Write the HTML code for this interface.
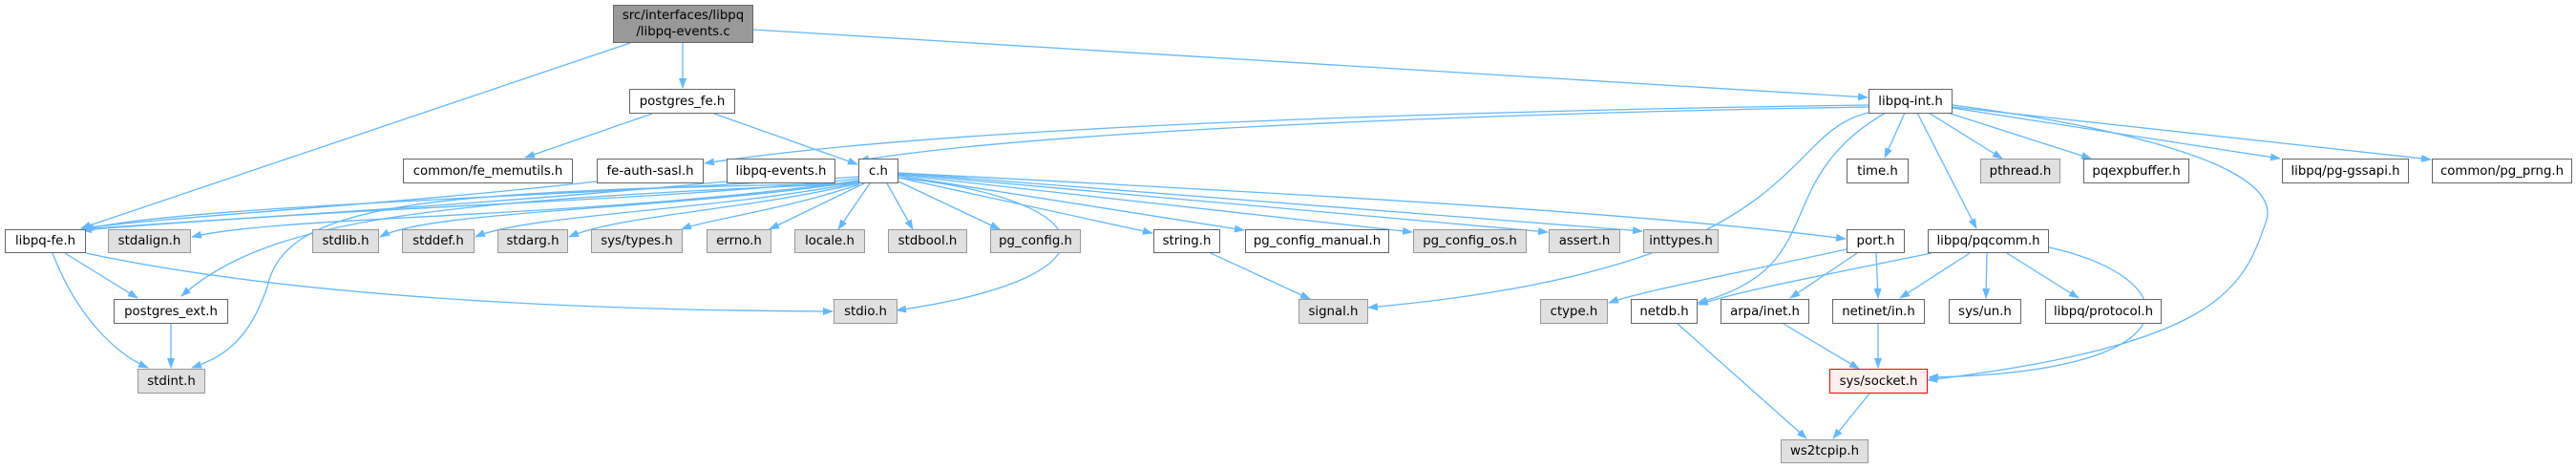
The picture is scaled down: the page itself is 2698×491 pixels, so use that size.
<!DOCTYPE html>
<html><head><meta charset="utf-8"><style>
html,body{margin:0;padding:0;background:#fff;width:2698px;height:491px;overflow:hidden;position:relative}
.n{position:absolute;box-sizing:border-box;border:1px solid #666;background:#fff;font-family:"DejaVu Sans","Liberation Sans",sans-serif;font-size:13.3px;color:#000;display:flex;align-items:center;justify-content:center;white-space:nowrap;line-height:17px;text-align:center}
.g{background:#e0e0e0;border-color:#999}
svg{position:absolute;left:0;top:0}
</style></head><body>
<svg width="2698" height="491" viewBox="0 0 2698 491">
<defs><marker id="a" markerWidth="11" markerHeight="8" refX="10" refY="4" orient="auto" markerUnits="userSpaceOnUse"><path d="M0,0 L11,4 L0,8 z" fill="#63b8ff"/></marker></defs>
<g fill="none" stroke="#63b8ff" stroke-width="1.3" marker-end="url(#a)">
<path d="M715,45 L715,92"/>
<path d="M660,45 L85,239"/>
<path d="M789,31 L1956,102"/>
<path d="M683,119 L550,165"/>
<path d="M748,119 L898,172"/>
<path d="M1957,110 C1600,115 1000,130 738,171"/>
<path d="M1957,112 C1600,118 1100,135 900,168"/>
<path d="M625,190 C400,215 200,225 85,239"/>
<path d="M761,190 C500,215 250,228 86,240"/>
<path d="M899,185 C600,205 200,215 88,240"/>
<path d="M899,187 C700,210 400,215 86,241"/>
<path d="M899,189 C600,230 300,225 201,248"/>
<path d="M899,190 C700,220 450,220 398,248"/>
<path d="M899,191 C750,220 550,225 498,248"/>
<path d="M899,192 C780,220 650,225 596,248"/>
<path d="M900,193 C820,220 740,230 714,240"/>
<path d="M905,192 L806,240"/>
<path d="M911,192 L878,240"/>
<path d="M929,192 L956,240"/>
<path d="M941,190 L1047,240"/>
<path d="M941,186 L1207,244"/>
<path d="M941,184 L1303,241"/>
<path d="M941,183 L1479,243"/>
<path d="M941,182 L1621,243"/>
<path d="M941,181 L1720,242"/>
<path d="M941,181 C1300,200 1700,220 1933,250"/>
<path d="M941,186 C1160,210 1180,290 939,325"/>
<path d="M899,192 C450,210 280,230 190,310"/>
<path d="M899,192 C450,200 300,210 280,300 C260,360 230,375 201,385"/>
<path d="M90,265 C300,310 600,325 872,326"/>
<path d="M68,265 L144,312"/>
<path d="M55,265 C80,330 120,370 155,385"/>
<path d="M179,339 L179,385"/>
<path d="M1268,265 L1372,313"/>
<path d="M1957,118 C1860,140 1900,280 1433,322"/>
<path d="M1975,118 C1850,190 1920,280 1778,317"/>
<path d="M2045,110 C2200,130 2390,170 2374,230 C2350,300 2330,360 2019,398"/>
<path d="M1995,118 L1974,165"/>
<path d="M2020,118 L2097,166"/>
<path d="M2040,118 L2190,166"/>
<path d="M2045,113 L2388,166"/>
<path d="M2045,112 L2546,167"/>
<path d="M2008,118 L2070,239"/>
<path d="M1934,261 C1800,290 1720,305 1685,317"/>
<path d="M1945,265 L1875,312"/>
<path d="M1965,265 L1967,312"/>
<path d="M2023,265 C1900,290 1820,305 1779,319"/>
<path d="M2063,265 L1990,312"/>
<path d="M2081,265 L2080,312"/>
<path d="M2102,265 L2177,312"/>
<path d="M2146,259 C2290,290 2310,390 2020,395"/>
<path d="M1868,339 L1947,386"/>
<path d="M1967,339 L1967,385"/>
<path d="M1958,412 L1920,459"/>
<path d="M1757,339 L1892,459"/>
</g></svg>
<div class="n" style="left:642px;top:5px;width:147px;height:40px;background:#999;border-color:#666">src/interfaces/libpq<br>/libpq-events.c</div>
<div class="n" style="left:659px;top:93px;width:111px;height:26px">postgres_fe.h</div>
<div class="n" style="left:1957px;top:93px;width:88px;height:26px">libpq-int.h</div>
<div class="n" style="left:422px;top:166px;width:178px;height:26px">common/fe_memutils.h</div>
<div class="n" style="left:625px;top:166px;width:112px;height:26px">fe-auth-sasl.h</div>
<div class="n" style="left:761px;top:166px;width:114px;height:26px">libpq-events.h</div>
<div class="n" style="left:899px;top:166px;width:42px;height:26px">c.h</div>
<div class="n" style="left:1934px;top:166px;width:65px;height:26px">time.h</div>
<div class="n g" style="left:2074px;top:166px;width:84px;height:26px">pthread.h</div>
<div class="n" style="left:2182px;top:166px;width:111px;height:26px">pqexpbuffer.h</div>
<div class="n" style="left:2390px;top:166px;width:133px;height:26px">libpq/pg-gssapi.h</div>
<div class="n" style="left:2547px;top:166px;width:147px;height:26px">common/pg_prng.h</div>
<div class="n" style="left:5px;top:240px;width:85px;height:25px">libpq-fe.h</div>
<div class="n g" style="left:113px;top:240px;width:87px;height:25px">stdalign.h</div>
<div class="n g" style="left:327px;top:240px;width:70px;height:25px">stdlib.h</div>
<div class="n g" style="left:421px;top:240px;width:76px;height:25px">stddef.h</div>
<div class="n g" style="left:521px;top:240px;width:74px;height:25px">stdarg.h</div>
<div class="n g" style="left:619px;top:240px;width:96px;height:25px">sys/types.h</div>
<div class="n g" style="left:740px;top:240px;width:68px;height:25px">errno.h</div>
<div class="n g" style="left:832px;top:240px;width:74px;height:25px">locale.h</div>
<div class="n g" style="left:930px;top:240px;width:83px;height:25px">stdbool.h</div>
<div class="n g" style="left:1037px;top:240px;width:95px;height:25px">pg_config.h</div>
<div class="n" style="left:1208px;top:240px;width:70px;height:25px">string.h</div>
<div class="n" style="left:1304px;top:240px;width:151px;height:25px">pg_config_manual.h</div>
<div class="n g" style="left:1480px;top:240px;width:119px;height:25px">pg_config_os.h</div>
<div class="n g" style="left:1622px;top:240px;width:75px;height:25px">assert.h</div>
<div class="n g" style="left:1721px;top:240px;width:79px;height:25px">inttypes.h</div>
<div class="n" style="left:1934px;top:240px;width:61px;height:25px">port.h</div>
<div class="n" style="left:2019px;top:240px;width:127px;height:25px">libpq/pqcomm.h</div>
<div class="n" style="left:119px;top:313px;width:120px;height:26px">postgres_ext.h</div>
<div class="n g" style="left:873px;top:313px;width:67px;height:26px">stdio.h</div>
<div class="n g" style="left:1360px;top:313px;width:73px;height:26px">signal.h</div>
<div class="n g" style="left:1613px;top:313px;width:71px;height:26px">ctype.h</div>
<div class="n" style="left:1708px;top:313px;width:70px;height:26px">netdb.h</div>
<div class="n" style="left:1802px;top:313px;width:93px;height:26px">arpa/inet.h</div>
<div class="n" style="left:1919px;top:313px;width:97px;height:26px">netinet/in.h</div>
<div class="n" style="left:2041px;top:313px;width:76px;height:26px">sys/un.h</div>
<div class="n" style="left:2142px;top:313px;width:122px;height:26px">libpq/protocol.h</div>
<div class="n g" style="left:144px;top:386px;width:71px;height:26px">stdint.h</div>
<div class="n" style="left:1916px;top:386px;width:103px;height:26px;background:#fff0f0;border-color:#f00">sys/socket.h</div>
<div class="n g" style="left:1865px;top:460px;width:92px;height:25px">ws2tcpip.h</div>
</body></html>
